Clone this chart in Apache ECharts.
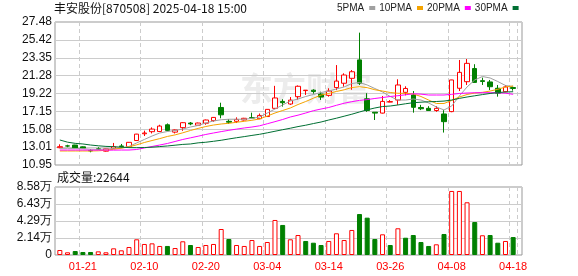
<!DOCTYPE html>
<html><head><meta charset="utf-8">
<script src="https://cdn.jsdelivr.net/npm/echarts@6/dist/echarts.min.js"></script>
<style>html,body{margin:0;padding:0;background:#fff}#c{width:578px;height:276px}</style>
</head><body><div id="c"></div>
<script>
const dates = ['01-16','01-17','01-20','01-21','01-22','01-23','01-24','01-27','02-05','02-06','02-07','02-10','02-11','02-12','02-13','02-14','02-17','02-18','02-19','02-20','02-21','02-24','02-25','02-26','02-27','02-28','03-03','03-04','03-05','03-06','03-07','03-10','03-11','03-12','03-13','03-14','03-17','03-18','03-19','03-20','03-21','03-24','03-25','03-26','03-27','03-28','03-31','04-01','04-02','04-03','04-07','04-08','04-09','04-10','04-11','04-14','04-15','04-16','04-17','04-18'];
const opens = [12.95,13.16,13.26,13.05,12.62,12.82,12.55,12.85,13.15,13.05,13.78,14.56,14.80,14.82,15.60,14.75,15.27,15.80,15.55,15.78,16.08,17.60,16.00,16.00,16.15,16.42,16.30,16.55,17.50,18.30,18.00,18.85,19.55,19.60,19.15,19.00,19.90,20.40,20.97,23.10,18.60,17.05,16.95,18.22,18.46,19.35,19.05,17.60,17.50,17.25,16.85,17.12,19.82,20.58,22.10,20.70,20.55,19.82,19.42,19.90];
const closes = [13.07,13.14,12.92,12.90,12.58,12.78,12.82,13.05,13.08,13.57,14.52,14.65,15.10,15.45,14.95,15.00,15.84,15.70,15.80,16.15,16.45,16.75,15.90,16.22,16.35,16.38,16.68,17.38,18.70,18.15,18.45,20.05,19.60,19.45,18.80,19.50,20.65,21.35,21.73,20.40,17.25,16.95,18.30,18.28,20.20,19.80,17.62,17.45,17.25,17.50,15.96,20.78,21.66,22.70,20.50,20.60,20.00,19.25,19.98,19.80];
const lows = [12.88,13.00,12.90,12.88,12.42,12.68,12.50,12.80,12.90,13.00,13.75,14.30,14.60,14.80,14.85,14.60,14.90,15.55,15.50,15.60,15.95,16.35,15.69,15.80,16.10,16.30,16.25,16.50,17.45,17.70,17.90,18.50,19.05,19.20,18.47,18.85,19.60,20.00,19.65,20.20,17.10,16.15,16.90,18.20,17.90,19.00,17.00,17.30,17.25,17.10,14.70,17.05,19.50,20.20,20.45,20.20,19.62,18.85,19.35,19.55];
const highs = [13.34,13.29,13.28,13.10,12.77,13.00,12.84,13.50,13.38,13.60,14.55,14.92,15.30,15.60,15.75,15.05,15.90,15.92,15.85,16.20,16.50,18.15,16.26,16.46,16.40,17.00,16.90,17.40,20.10,18.55,18.80,20.15,19.62,19.70,19.42,19.82,22.50,21.55,21.93,26.25,19.25,17.05,18.93,18.45,20.86,20.05,19.50,17.90,17.75,17.75,17.30,20.80,23.09,23.20,22.60,21.05,20.78,20.20,20.20,20.10];
const volumes = [6300,3400,5000,3800,3800,4600,3400,8400,5900,10100,19800,13900,14700,11400,11400,8800,17300,12600,10100,12600,13900,32800,20200,12600,11400,18900,11400,16400,44200,37900,19800,25200,17700,15500,12600,17700,27400,18900,31600,51700,47100,20200,26100,12600,33700,21800,25200,16400,11400,13500,26500,80800,80800,66500,41600,24900,25200,15500,17700,22644];
const ma5 = [12.88,12.88,12.86,12.84,12.78,12.77,12.80,12.86,12.92,13.09,13.50,13.90,14.30,14.65,14.82,14.94,15.11,15.34,15.52,15.81,16.04,16.18,16.24,16.24,16.24,16.33,16.50,16.96,17.42,17.89,18.35,18.58,18.87,19.10,19.33,19.50,19.74,19.97,20.37,20.49,20.20,19.79,19.39,18.87,18.46,18.46,18.58,18.46,18.12,17.66,17.31,17.77,18.93,19.97,20.78,21.18,21.01,20.60,20.14,20.02];
const ma10 = [12.57,12.57,12.57,12.57,12.57,12.59,12.65,12.77,12.89,13.05,13.28,13.55,13.78,14.00,14.25,14.43,14.67,14.94,15.18,15.40,15.57,15.69,15.77,15.89,16.00,16.12,16.27,16.61,16.96,17.25,17.54,17.94,18.29,18.67,19.04,19.22,19.45,19.64,19.91,20.00,19.89,19.65,19.50,19.33,19.24,19.24,19.16,18.87,18.46,18.06,18.06,18.41,18.81,19.10,19.27,19.35,19.50,19.70,19.97,20.08];
const ma20 = [12.68,12.68,12.68,12.68,12.67,12.67,12.67,12.67,12.68,12.68,12.74,12.92,13.09,13.26,13.44,13.67,13.90,14.09,14.28,14.48,14.65,14.81,14.96,15.10,15.23,15.34,15.48,15.72,15.96,16.21,16.50,16.71,16.96,17.23,17.42,17.60,17.85,18.09,18.27,18.42,18.51,18.64,18.75,18.87,18.96,19.07,19.18,19.14,19.04,19.04,19.04,19.12,19.22,19.27,19.30,19.31,19.31,19.30,19.25,19.12];
const ma30 = [13.84,13.59,13.45,13.38,13.26,13.17,13.10,13.07,13.01,12.96,12.95,12.97,13.01,13.08,13.15,13.24,13.33,13.38,13.51,13.58,13.69,13.81,13.96,14.10,14.23,14.37,14.50,14.67,14.85,15.03,15.20,15.39,15.55,15.74,15.92,16.15,16.36,16.59,16.82,17.08,17.33,17.54,17.71,17.77,17.89,18.03,18.15,18.21,18.26,18.29,18.34,18.46,18.65,18.81,18.95,19.09,19.22,19.32,19.39,19.42];
const priceTicks = ['10.95','13.01','15.08','17.15','19.22','21.28','23.35','25.42','27.48'];
const volTicks = ['0','2.14万','4.29万','6.43万','8.58万'];
const titleText = '丰安股份[870508] 2025-04-18 15:00';

const RED = '#ff0000', GREEN = '#008000';
const pMin = 10.95, pMax = 27.48, pInt = (pMax - pMin) / 8;
const vMax = 85800, vInt = vMax / 4;
const showIdx = (i) => (i - 3) % 8 === 0;

const kData = dates.map((d, i) => [opens[i], closes[i], lows[i], highs[i]]);
const volData = volumes.map((v, i) => {
  const up = i === 0 ? closes[0] >= opens[0] : closes[i] > closes[i - 1];
  return { value: v, itemStyle: up ? { color: '#fff', borderColor: RED, borderWidth: 1 } : { color: GREEN, borderColor: GREEN, borderWidth: 1 } };
});

const labelFont = { fontFamily: 'Liberation Sans, Arial, sans-serif', fontSize: 12, color: '#111' };

const chart = echarts.init(document.getElementById('c'), null, { renderer: 'canvas' });
chart.setOption({
  animation: false,
  backgroundColor: '#fff',
  title: [
    { text: titleText, left: 54, top: 2, padding: 0, textStyle: { fontFamily: 'Noto Sans CJK SC', fontSize: 12, fontWeight: 'normal', color: '#111' } },
    { text: '成交量:' + volumes[volumes.length - 1], left: 57, top: 171, padding: 0, textStyle: { fontFamily: 'Noto Sans CJK SC', fontSize: 12, fontWeight: 'normal', color: '#111' } }
  ],
  legend: {
    data: ['5PMA', '10PMA', '20PMA', '30PMA'], left: 337, top: 3, padding: 0,
    align: 'right', icon: 'rect', itemWidth: 6, itemHeight: 4, itemGap: 4,
    textStyle: { fontFamily: 'Liberation Sans, Arial', fontSize: 10, color: '#222' }
  },
  graphic: [
    { type: 'text', left: 240, top: 72, z: -10, silent: true,
      style: { text: '东方财富', fontFamily: 'Noto Sans CJK SC', fontSize: 33, fontWeight: 'bold', fill: '#ececec' } }
  ],
  grid: [
    { left: 56, top: 22, width: 461, height: 143 },
    { left: 56, top: 187, width: 461, height: 68 },
    { left: 55, top: 22, width: 467, height: 143, show: true, borderColor: '#999', borderWidth: 1, backgroundColor: 'transparent' },
    { left: 55, top: 187, width: 467, height: 68, show: true, borderColor: '#999', borderWidth: 1, backgroundColor: 'transparent' }
  ],
  xAxis: [
    { type: 'category', gridIndex: 0, data: dates, boundaryGap: true,
      axisLine: { show: false }, axisTick: { show: false }, axisLabel: { show: false },
      splitLine: { show: true, interval: showIdx, lineStyle: { color: '#ccc', type: [4, 3] } } },
    { type: 'category', gridIndex: 1, data: dates, boundaryGap: true,
      axisLine: { show: false }, axisTick: { show: false },
      axisLabel: { show: true, interval: showIdx, margin: 6, color: RED, fontFamily: 'Liberation Sans, Arial', fontSize: 11 },
      splitLine: { show: true, interval: showIdx, lineStyle: { color: '#ccc', type: [4, 3] } } },
    { type: 'value', gridIndex: 2, min: 0, max: 1, show: false },
    { type: 'value', gridIndex: 3, min: 0, max: 1, show: false }
  ],
  yAxis: [
    { type: 'value', gridIndex: 0, min: pMin, max: pMax, interval: pInt, show: false, splitLine: { show: false } },
    { type: 'value', gridIndex: 1, min: 0, max: vMax, interval: vInt, show: false, splitLine: { show: false } },
    { type: 'value', gridIndex: 2, min: pMin, max: pMax, interval: pInt,
      axisLine: { show: false }, axisTick: { show: false },
      axisLabel: Object.assign({ margin: 3, formatter: (v) => priceTicks[Math.round((v - pMin) / pInt)] }, labelFont),
      splitLine: { show: true, lineStyle: { color: '#ccc' } } },
    { type: 'value', gridIndex: 3, min: 0, max: vMax, interval: vInt,
      axisLine: { show: false }, axisTick: { show: false },
      axisLabel: Object.assign({ margin: 3, formatter: (v) => volTicks[Math.round(v / vInt)] }, labelFont),
      splitLine: { show: true, lineStyle: { color: '#ccc' } } }
  ],
  series: [
    { type: 'candlestick', xAxisIndex: 0, yAxisIndex: 0, data: kData, barWidth: 5, z: 3,
      itemStyle: { color: '#fff', color0: GREEN, borderColor: RED, borderColor0: GREEN, borderWidth: 1 } },
    { type: 'bar', xAxisIndex: 1, yAxisIndex: 1, data: volData, barWidth: 5, z: 3 },
    { name: '5PMA', type: 'line', xAxisIndex: 0, yAxisIndex: 0, data: ma5, showSymbol: false, color: '#a0a0a0', lineStyle: { width: 1, color: '#a0a0a0' }, z: 4 },
    { name: '10PMA', type: 'line', xAxisIndex: 0, yAxisIndex: 0, data: ma10, showSymbol: false, color: '#f4a300', lineStyle: { width: 1, color: '#f4a300' }, z: 4 },
    { name: '20PMA', type: 'line', xAxisIndex: 0, yAxisIndex: 0, data: ma20, showSymbol: false, color: '#ff00ff', lineStyle: { width: 1, color: '#ff00ff' }, z: 4 },
    { name: '30PMA', type: 'line', xAxisIndex: 0, yAxisIndex: 0, data: ma30, showSymbol: false, color: '#006f33', lineStyle: { width: 1, color: '#006f33' }, z: 4 }
  ]
});
</script>
</body></html>
